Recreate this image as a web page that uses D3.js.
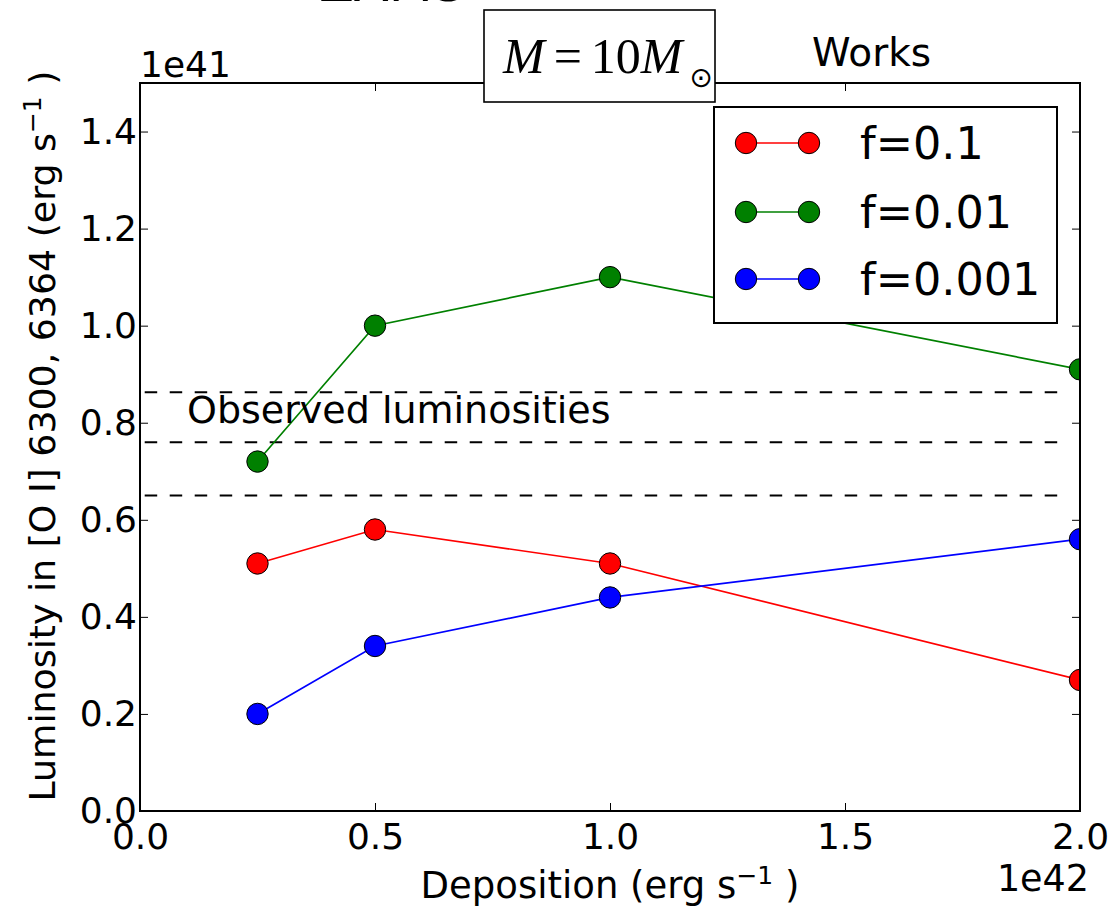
<!DOCTYPE html>
<html>
<head>
<meta charset="utf-8">
<script src="https://cdn.jsdelivr.net/npm/d3@7"></script>
<style>
  html, body { margin: 0; padding: 0; background: #fff; }
  svg { display: block; }
</style>
</head>
<body>
<script>
// Energy deposition (units of 1e42 erg/s)
const deposition = [0.25, 0.5, 1.0, 2.0];

// [O I] 6300, 6364 luminosity (units of 1e41 erg/s) for each f
const seriesNames = ["f=0.1", "f=0.01", "f=0.001"];
const seriesColors = ["#ff0000", "#008000", "#0000ff"];
const lumF0_1 = [0.51, 0.58, 0.51, 0.27];
const lumF0_01 = [0.72, 1.00, 1.10, 0.91];
const lumF0_001 = [0.20, 0.34, 0.44, 0.56];

// Observed luminosity levels (1e41 erg/s)
const observedLevels = [0.863, 0.76, 0.65];

// Axis ticks
const xTicks = [0.0, 0.5, 1.0, 1.5, 2.0];
const yTicks = [0.0, 0.2, 0.4, 0.6, 0.8, 1.0, 1.2, 1.4];

const W = 1114, H = 908;
const plot = { left: 140, right: 1080, top: 83, bottom: 811 };

const svg = d3.select("body").append("svg")
  .attr("width", W).attr("height", H)
  .attr("font-family", "DejaVu Sans, sans-serif")
  .attr("fill", "#000");

const x = d3.scaleLinear().domain([0, 2]).range([plot.left, plot.right]);
const y = d3.scaleLinear().domain([0, 1.5]).range([plot.bottom, plot.top]);

const fmt = d3.format(".1f");

// Clip region for data marks
svg.append("defs").append("clipPath").attr("id", "plot-clip")
  .append("rect")
  .attr("x", plot.left).attr("y", plot.top)
  .attr("width", plot.right - plot.left)
  .attr("height", plot.bottom - plot.top);

const dataG = svg.append("g").attr("clip-path", "url(#plot-clip)");

// Observed luminosity dashed lines
dataG.selectAll("line.obs").data(observedLevels).join("line")
  .attr("class", "obs")
  .attr("x1", x(0.01)).attr("x2", x(1.975))
  .attr("y1", d => y(d)).attr("y2", d => y(d))
  .attr("stroke", "#000").attr("stroke-width", 2)
  .attr("stroke-dasharray", "12.5,12.5");

svg.append("text")
  .attr("x", x(0.1)).attr("y", 423)
  .attr("font-size", 38)
  .text("Observed luminosities");

// Series lines and markers
const series = [lumF0_1, lumF0_01, lumF0_001].map((vals, i) => ({
  name: seriesNames[i],
  color: seriesColors[i],
  points: deposition.map((d, j) => ({ x: d, y: vals[j] }))
}));

const line = d3.line().x(d => x(d.x)).y(d => y(d.y));

series.forEach(s => {
  dataG.append("path")
    .attr("d", line(s.points))
    .attr("fill", "none")
    .attr("stroke", s.color)
    .attr("stroke-width", 1.7);
});
series.forEach(s => {
  dataG.selectAll(null).data(s.points).join("circle")
    .attr("cx", d => x(d.x)).attr("cy", d => y(d.y))
    .attr("r", 10.7)
    .attr("fill", s.color)
    .attr("stroke", "#000").attr("stroke-width", 1);
});

// Axes: inward ticks on all four sides
const tickLen = 8;
const axisStyle = g => {
  g.attr("font-family", "DejaVu Sans, sans-serif");
  g.select(".domain").remove();
  g.selectAll(".tick line").attr("stroke", "#000").attr("stroke-width", 1);
  g.selectAll(".tick text").attr("font-size", 36).attr("fill", "#000");
};

svg.append("g")
  .attr("transform", `translate(0,${plot.bottom})`)
  .call(d3.axisBottom(x).tickValues(xTicks).tickFormat(fmt)
    .tickSizeInner(-tickLen).tickSizeOuter(0).tickPadding(12))
  .call(axisStyle);

svg.append("g")
  .attr("transform", `translate(0,${plot.top})`)
  .call(d3.axisTop(x).tickValues(xTicks).tickFormat("")
    .tickSizeInner(-tickLen).tickSizeOuter(0))
  .call(axisStyle);

svg.append("g")
  .attr("transform", `translate(${plot.left},0)`)
  .call(d3.axisLeft(y).tickValues(yTicks).tickFormat(fmt)
    .tickSizeInner(-tickLen).tickSizeOuter(0).tickPadding(3))
  .call(axisStyle);

svg.append("g")
  .attr("transform", `translate(${plot.right},0)`)
  .call(d3.axisRight(y).tickValues(yTicks).tickFormat("")
    .tickSizeInner(-tickLen).tickSizeOuter(0))
  .call(axisStyle);

// Frame
svg.append("rect")
  .attr("x", plot.left).attr("y", plot.top)
  .attr("width", plot.right - plot.left)
  .attr("height", plot.bottom - plot.top)
  .attr("fill", "none").attr("stroke", "#000").attr("stroke-width", 2);

// Offset labels
svg.append("text").attr("x", plot.left).attr("y", 77)
  .attr("font-size", 36).text("1e41");
svg.append("text").attr("x", 1089).attr("y", 891)
  .attr("text-anchor", "end").attr("font-size", 36.5).text("1e42");

// Axis titles
const xt = svg.append("text")
  .attr("x", 610).attr("y", 898)
  .attr("text-anchor", "middle").attr("font-size", 37);
xt.append("tspan").text("Deposition (erg s");
xt.append("tspan").attr("dy", -14).attr("font-size", 25).text("\u22121");
xt.append("tspan").attr("dy", 14).text(" )");

const yt = svg.append("text")
  .attr("transform", "translate(55,436) rotate(-90)")
  .attr("text-anchor", "middle").attr("font-size", 36.3);
yt.append("tspan").text("Luminosity in [O I] 6300, 6364 (erg s");
yt.append("tspan").attr("dy", -14).attr("font-size", 25).text("\u22121");
yt.append("tspan").attr("dy", 14).text(" )");

// Partially visible heading at top
svg.append("text").attr("x", 392).attr("y", 1)
  .attr("text-anchor", "middle").attr("font-size", 51).text("ZAMS");

svg.append("text").attr("x", 812).attr("y", 66)
  .attr("font-size", 39).text("Works");

// Mass annotation box
svg.append("rect")
  .attr("x", 484).attr("y", 10).attr("width", 231).attr("height", 92)
  .attr("fill", "#fff").attr("stroke", "#000").attr("stroke-width", 1.6);
const mt = svg.append("text")
  .attr("x", 503).attr("y", 73)
  .attr("font-size", 50)
  .attr("font-family", "Liberation Serif, serif");
mt.append("tspan").attr("font-style", "italic").text("M");
mt.append("tspan").attr("dx", 9).text("=");
mt.append("tspan").attr("dx", 9).text("10");
mt.append("tspan").attr("font-style", "italic").text("M");
svg.append("text").attr("x", 701).attr("y", 77)
  .attr("text-anchor", "middle").attr("dominant-baseline", "central")
  .attr("font-size", 28)
  .text("\u2299");

// Legend
const lg = svg.append("g");
lg.append("rect")
  .attr("x", 714).attr("y", 107).attr("width", 343).attr("height", 216)
  .attr("fill", "#fff").attr("stroke", "#000").attr("stroke-width", 2);
const rowY = [143, 212, 279];
series.forEach((s, i) => {
  const ry = rowY[i];
  lg.append("line").attr("x1", 746).attr("x2", 809)
    .attr("y1", ry).attr("y2", ry)
    .attr("stroke", s.color).attr("stroke-width", 1.7);
  [746, 809].forEach(cx => lg.append("circle")
    .attr("cx", cx).attr("cy", ry).attr("r", 10.7)
    .attr("fill", s.color).attr("stroke", "#000").attr("stroke-width", 1));
  lg.append("text").attr("x", 860).attr("y", ry + 16)
    .attr("font-size", 44.5).text(s.name);
});
</script>
</body>
</html>
